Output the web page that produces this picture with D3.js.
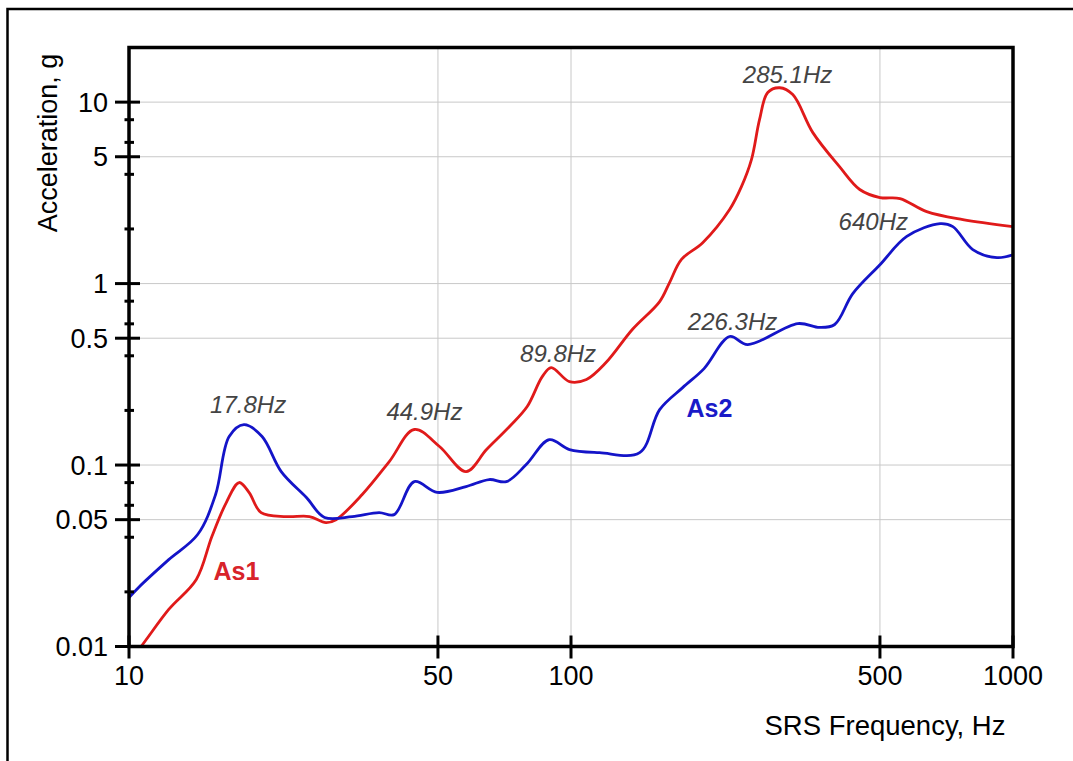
<!DOCTYPE html>
<html>
<head>
<meta charset="utf-8">
<script src="https://cdn.jsdelivr.net/npm/d3@7"></script>
<style>
  body { margin: 0; background: #fff; }
  svg { display: block; font-family: "Liberation Sans", Arial, sans-serif; }
</style>
</head>
<body>
<svg id="drawing_region"></svg>
<script>
// SRS curves
const freqAs1 = [10, 10.65, 12.3, 14.2, 15.4, 16.6, 17.75, 18.7, 19.9, 22.7, 25.6, 27.9, 29.4, 33.7, 38.8, 44.2, 50.4, 57.9, 64.4, 72.6, 79.6, 86.1, 90.2, 99.2, 108.4, 120, 137.8, 158.7, 167, 177.8, 198.6, 228.5, 243, 256, 267, 278.7, 296.6, 317.5, 352.5, 405, 450, 500, 555, 638, 770, 1000];
const accAs1 = [0.0083, 0.010, 0.016, 0.0234, 0.0404, 0.0621, 0.0801, 0.0705, 0.0547, 0.052, 0.052, 0.0482, 0.050, 0.0688, 0.1045, 0.157, 0.1265, 0.092, 0.1217, 0.163, 0.210, 0.307, 0.344, 0.288, 0.296, 0.367, 0.56, 0.796, 1.01, 1.36, 1.68, 2.56, 3.42, 4.82, 8.01, 11.3, 12.0, 11.0, 6.79, 4.41, 3.30, 2.98, 2.94, 2.49, 2.25, 2.06];

const freqAs2 = [10, 10.5, 12.3, 14.3, 15.7, 16.85, 18.2, 20.0, 22.1, 25.2, 27.7, 32.0, 36.8, 39.8, 44.2, 49.8, 57.9, 65.3, 71.4, 79.2, 89.3, 99.2, 116, 143, 158.7, 178.9, 200, 228.5, 251, 326, 365, 395, 434, 500, 575, 684, 731, 811, 920, 1000];
const accAs2 = [0.0186, 0.0211, 0.0301, 0.0414, 0.0688, 0.1436, 0.167, 0.1436, 0.092, 0.0662, 0.0514, 0.052, 0.0547, 0.0533, 0.081, 0.0707, 0.0761, 0.0832, 0.081, 0.1006, 0.138, 0.1217, 0.117, 0.117, 0.202, 0.267, 0.34, 0.511, 0.461, 0.602, 0.573, 0.595, 0.88, 1.27, 1.82, 2.14, 2.06, 1.54, 1.39, 1.44];

// peak annotations (text, frequency, acceleration where the text sits)
const peakText = ['17.8Hz', '44.9Hz', '89.8Hz', '226.3Hz', '285.1Hz', '640Hz'];
const peakFreq = [18.6, 46.6, 93.5, 232, 309, 483];
const peakAcc  = [0.194, 0.1775, 0.370, 0.556, 12.76, 1.98];

const seriesNames = ['As1', 'As2'];
const seriesLabelFreq = [17.5, 205.7];
const seriesLabelAcc = [0.0233, 0.1844];

const xTickValues = [10, 50, 100, 500, 1000];
const yTickValues = [0.01, 0.05, 0.1, 0.5, 1, 5, 10];
const yMinorValues = [0.02, 0.04, 0.06, 0.08, 0.2, 0.4, 0.6, 0.8, 2, 4, 6, 8];
const xGridValues = [50, 100, 500];
const yGridValues = [0.05, 0.1, 0.5, 1, 5, 10];

class SrsChart {
    constructor( config ) {
        this.config = config;
        this.init();
    }

    init() {
        let self = this;
        const c = self.config;

        self.svg = d3.select( c.parent )
            .attr('width', c.width)
            .attr('height', c.height);

        // outer frame
        self.svg.append('rect')
            .attr('x', 7.5).attr('y', 9)
            .attr('width', c.width + 20).attr('height', c.height + 20)
            .attr('fill', 'none')
            .attr('stroke', '#000')
            .attr('stroke-width', 2.5);

        self.xscale = d3.scaleLog()
            .domain([10, 1000])
            .range([c.plot.left, c.plot.right]);

        self.yscale = d3.scaleLog()
            .domain([0.01, 20])
            .range([c.plot.bottom, c.plot.top]);

        self.chart = self.svg.append('g');
    }

    render() {
        let self = this;
        const c = self.config;
        const x = self.xscale, y = self.yscale;

        // grid
        self.chart.selectAll('.xgrid')
            .data(xGridValues).enter().append('line')
            .attr('x1', d => x(d)).attr('x2', d => x(d))
            .attr('y1', c.plot.top).attr('y2', c.plot.bottom)
            .attr('stroke', '#c8c8c8').attr('stroke-width', 1);
        self.chart.selectAll('.ygrid')
            .data(yGridValues).enter().append('line')
            .attr('x1', c.plot.left).attr('x2', c.plot.right)
            .attr('y1', d => y(d)).attr('y2', d => y(d))
            .attr('stroke', '#c8c8c8').attr('stroke-width', 1);

        // curves
        self.svg.append('clipPath').attr('id', 'plotclip')
            .append('rect')
            .attr('x', c.plot.left).attr('y', c.plot.top)
            .attr('width', c.plot.right - c.plot.left)
            .attr('height', c.plot.bottom - c.plot.top);

        const line = d3.line()
            .x(d => x(d[0]))
            .y(d => y(d[1]))
            .curve(d3.curveCatmullRom.alpha(0.5));

        const as1 = freqAs1.map((f, i) => [f, accAs1[i]]);
        const as2 = freqAs2.map((f, i) => [f, accAs2[i]]);

        self.chart.append('path')
            .datum(as1)
            .attr('clip-path', 'url(#plotclip)')
            .attr('d', line)
            .attr('fill', 'none')
            .attr('stroke', '#e01a1a')
            .attr('stroke-width', 2.8);

        self.chart.append('path')
            .datum(as2)
            .attr('clip-path', 'url(#plotclip)')
            .attr('d', line)
            .attr('fill', 'none')
            .attr('stroke', '#1414c8')
            .attr('stroke-width', 2.8);

        // plot border
        self.chart.append('rect')
            .attr('x', c.plot.left).attr('y', c.plot.top)
            .attr('width', c.plot.right - c.plot.left)
            .attr('height', c.plot.bottom - c.plot.top)
            .attr('fill', 'none')
            .attr('stroke', '#000')
            .attr('stroke-width', 3.5);

        // y axis ticks (crossing the axis line)
        const yaxis = self.chart.append('g');
        yaxis.selectAll('.ymajor')
            .data(yTickValues).enter().append('line')
            .attr('x1', c.plot.left - 14).attr('x2', c.plot.left + 11)
            .attr('y1', d => y(d)).attr('y2', d => y(d))
            .attr('stroke', '#000').attr('stroke-width', 3);
        yaxis.selectAll('.yminor')
            .data(yMinorValues).enter().append('line')
            .attr('x1', c.plot.left - 4.5).attr('x2', c.plot.left + 5)
            .attr('y1', d => y(d)).attr('y2', d => y(d))
            .attr('stroke', '#000').attr('stroke-width', 3);
        yaxis.selectAll('text')
            .data(yTickValues).enter().append('text')
            .attr('x', c.plot.left - 21)
            .attr('y', d => y(d))
            .attr('dy', '0.36em')
            .attr('text-anchor', 'end')
            .style('font-size', '27px')
            .text(d => d3.format('~g')(d));

        // x axis ticks
        const xaxis = self.chart.append('g');
        xaxis.selectAll('line')
            .data(xTickValues).enter().append('line')
            .attr('x1', d => x(d)).attr('x2', d => x(d))
            .attr('y1', c.plot.bottom - 11).attr('y2', c.plot.bottom + 12)
            .attr('stroke', '#000').attr('stroke-width', 3);
        xaxis.selectAll('text')
            .data(xTickValues).enter().append('text')
            .attr('x', d => x(d))
            .attr('y', c.plot.bottom + 38)
            .attr('text-anchor', 'middle')
            .style('font-size', '27px')
            .text(d => d);

        // axis titles
        self.svg.append('text')
            .attr('text-anchor', 'middle')
            .attr('x', 885)
            .attr('y', 735)
            .style('font-size', '27.5px')
            .text(c.xlabel);

        self.svg.append('text')
            .attr('text-anchor', 'middle')
            .attr('transform', 'translate(57, 143) rotate(-90)')
            .style('font-size', '27px')
            .text(c.ylabel);

        // peak labels
        self.chart.selectAll('.peak')
            .data(peakText).enter().append('text')
            .attr('x', (d, i) => x(peakFreq[i]))
            .attr('y', (d, i) => y(peakAcc[i]))
            .attr('text-anchor', 'middle')
            .style('font-size', '24px')
            .style('font-style', 'italic')
            .attr('fill', '#444')
            .text(d => d);

        // series names
        self.chart.selectAll('.sname')
            .data(seriesNames).enter().append('text')
            .attr('x', (d, i) => x(seriesLabelFreq[i]))
            .attr('y', (d, i) => y(seriesLabelAcc[i]))
            .attr('text-anchor', 'middle')
            .style('font-size', '25px')
            .style('font-weight', 'bold')
            .attr('fill', (d, i) => i === 0 ? '#d8232a' : '#1a1ac8')
            .text(d => d);
    }
}

const chart = new SrsChart({
    parent: '#drawing_region',
    width: 1073,
    height: 761,
    plot: { left: 129, right: 1013, top: 47.5, bottom: 646.5 },
    xlabel: 'SRS Frequency, Hz',
    ylabel: 'Acceleration, g'
});
chart.render();
</script>
</body>
</html>
